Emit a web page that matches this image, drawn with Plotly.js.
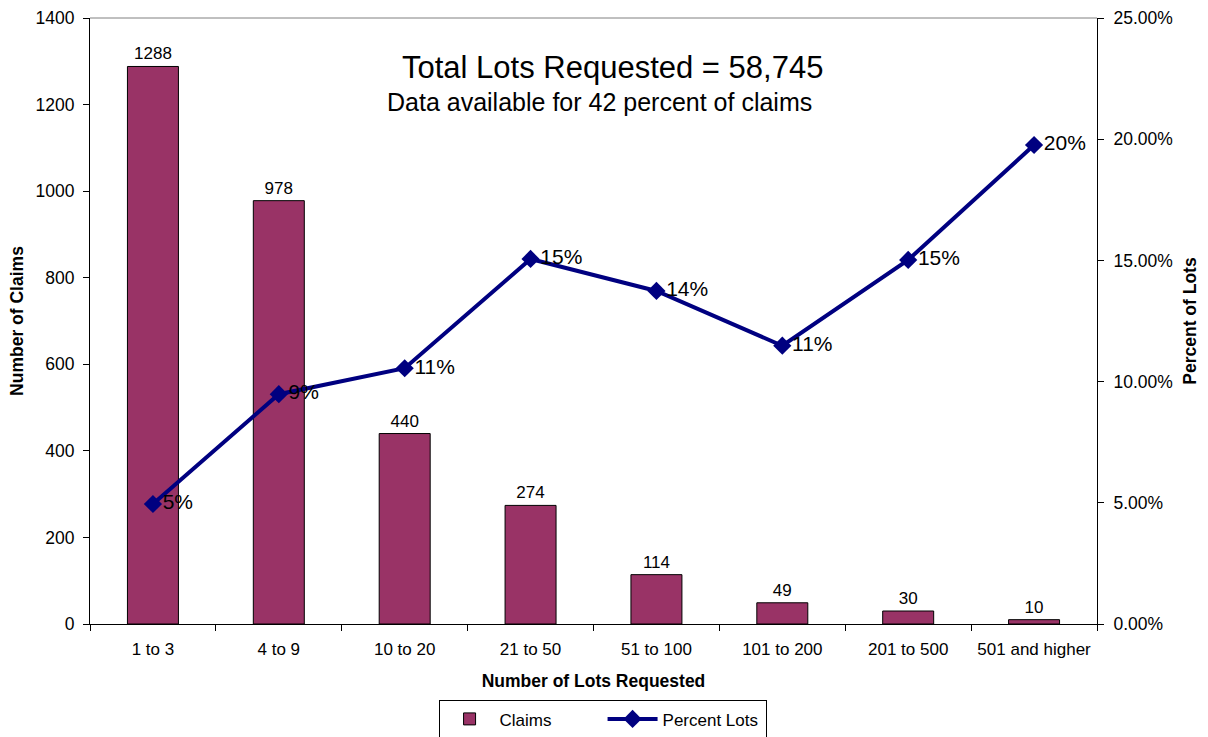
<!DOCTYPE html>
<html>
<head>
<meta charset="utf-8">
<script src="https://cdn.plot.ly/plotly-3.0.1.min.js"></script>
<style>html,body{margin:0;padding:0;background:#fff;}#chart{width:1208px;height:737px;}</style>
</head>
<body>
<div id="chart"></div>
<script>
const categories = ["1 to 3","4 to 9","10 to 20","21 to 50","51 to 100","101 to 200","201 to 500","501 and higher"];
const claims = [1288, 978, 440, 274, 114, 49, 30, 10];
const percentLots = [0.0495, 0.0948, 0.1055, 0.1506, 0.1374, 0.1148, 0.1502, 0.1976];
const percentLabels = ["5%","9%","11%","15%","14%","11%","15%","20%"];

const font = "Liberation Sans, Arial, sans-serif";

const traces = [
  {
    type: "bar", name: "Claims", x: categories, y: claims,
    marker: {color: "#993366", line: {color: "#000000", width: 1}},
    text: claims.map(String), textposition: "outside", cliponaxis: false,
    textfont: {family: font, size: 17, color: "#000"},
    hoverinfo: "x+y"
  },
  {
    type: "scatter", mode: "lines+markers+text", name: "Percent Lots",
    x: categories, y: percentLots, yaxis: "y2",
    line: {color: "#000080", width: 4},
    marker: {symbol: "diamond", size: 14, color: "#000080"},
    text: percentLabels, textposition: "middle right", cliponaxis: false,
    textfont: {family: font, size: 21, color: "#000"}
  }
];

const layout = {
  width: 1208, height: 737,
  margin: {l: 90, r: 111, t: 18, b: 113, autoexpand: false},
  paper_bgcolor: "#fff", plot_bgcolor: "#fff",
  font: {family: font, size: 17, color: "#000"},
  bargap: 0.595,
  showlegend: true,
  legend: {
    orientation: "h", x: 0.509, xanchor: "center", y: -0.126, yanchor: "top",
    bordercolor: "#000", borderwidth: 1, bgcolor: "#fff",
    font: {family: font, size: 17, color: "#000"},
    traceorder: "normal", itemwidth: 50, entrywidth: 98
  },
  xaxis: {
    type: "category", tickson: "boundaries", ticks: "outside", ticklen: 6, tickcolor: "#000",
    showline: true, linecolor: "#000", linewidth: 1, mirror: false, automargin: false,
    tickangle: 0, ticklabelstandoff: 10,
    tickfont: {family: font, size: 17},
    title: {text: "<b>Number of Lots Requested</b>", font: {family: font, size: 17.5}, standoff: 16},
    showgrid: false, zeroline: false
  },
  yaxis: {
    range: [0, 1400], dtick: 200, ticks: "outside", ticklen: 6, tickcolor: "#000",
    showline: true, linecolor: "#000", linewidth: 1, automargin: false,
    ticklabelstandoff: 5,
    tickfont: {family: font, size: 17.5},
    title: {text: "<b>Number of Claims</b>", font: {family: font, size: 17.5}, standoff: 7},
    showgrid: false, zeroline: false
  },
  yaxis2: {
    overlaying: "y", side: "right", range: [0, 0.25], dtick: 0.05, tickformat: ".2%",
    ticks: "outside", ticklen: 6, tickcolor: "#000", automargin: false,
    showline: true, linecolor: "#000", linewidth: 1,
    ticklabelstandoff: 6,
    tickfont: {family: font, size: 17.5},
    title: {text: "<b>Percent of Lots</b>", font: {family: font, size: 17.5}, standoff: 11},
    showgrid: false, zeroline: false
  },
  shapes: [
    {type: "line", xref: "paper", yref: "paper", x0: 0, x1: 1, y0: 1, y1: 1, line: {color: "#808080", width: 1}}
  ],
  annotations: [
    {text: "Total Lots Requested = 58,745", xref: "paper", yref: "paper", x: 0.519, y: 0.9175, yanchor: "middle", showarrow: false, font: {family: font, size: 31, color: "#000"}},
    {text: "Data available for 42 percent of claims", xref: "paper", yref: "paper", x: 0.506, y: 0.861, yanchor: "middle", showarrow: false, font: {family: font, size: 25, color: "#000"}}
  ]
};

Plotly.newPlot("chart", traces, layout, {displayModeBar: false, staticPlot: true});
</script>
</body>
</html>
